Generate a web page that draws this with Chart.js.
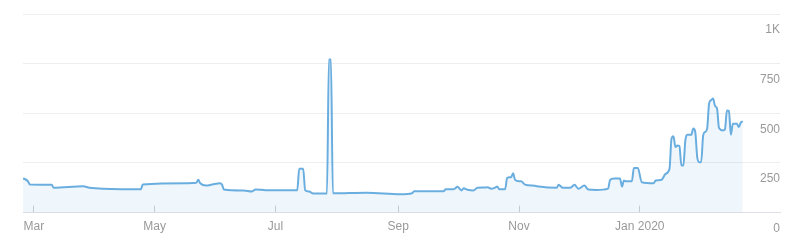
<!DOCTYPE html>
<html>
<head>
<meta charset="utf-8">
<script src="https://cdn.jsdelivr.net/npm/chart.js@4"></script>
<style>
  body { margin: 0; background: #fff; }
</style>
</head>
<body>
<canvas id="trafficChart" width="801" height="252"></canvas>
<script>
// days counted from 1 Mar 2019
const days = [-5.5, -3, -2, 9, 10, 25, 28, 44, 54, 55, 78, 82, 83, 84, 87, 90, 94, 95, 96,
    106, 110, 112, 117, 133, 134, 136, 137, 139, 141, 148, 149, 150, 151, 168, 185,
    191, 192, 207, 208, 212, 214, 215, 216, 217, 219, 222, 224, 228, 229, 231, 233, 234, 235,
    238, 239, 241, 242, 243, 245, 246, 248, 253, 255, 264, 265, 267, 271, 273, 275, 278, 280,
    284, 290, 291, 293, 296, 297, 298, 299, 302, 303, 305, 307, 313, 314, 317, 319, 321,
    322, 323, 324, 325, 326, 327, 328, 329, 330, 332, 333, 334, 335, 336, 337, 338, 339,
    340, 341, 342, 343, 344, 345, 346, 348, 349, 350, 351, 352, 353, 355, 356, 357, 358];
const values = [173, 158, 141, 140, 125, 133, 125, 118, 118, 141, 148, 150, 165, 148, 136, 141, 148, 141, 116,
    111, 106, 116, 113, 112, 221, 221, 112, 106, 96, 96, 771, 771, 97, 100, 92,
    97, 108, 108, 118, 118, 130, 120, 111, 123, 115, 111, 125, 126, 128, 120, 126, 131, 118,
    118, 175, 178, 198, 165, 158, 158, 141, 135, 131, 125, 140, 125, 125, 140, 120, 136, 116,
    114, 121, 165, 172, 172, 131, 162, 158, 158, 224, 224, 153, 148, 162, 165, 195, 221,
    372, 385, 330, 338, 335, 237, 237, 364, 392, 392, 423, 406, 279, 254, 254, 389, 406,
    423, 549, 566, 574, 537, 524, 426, 414, 419, 514, 512, 392, 448, 448, 431, 453, 460];

const tickDays = [0, 61, 122, 184, 245, 306];
const tickLabels = ['Mar', 'May', 'Jul', 'Sep', 'Nov', 'Jan 2020'];
const yTicks = [0, 250, 500, 750, 1000];

const points = days.map((d, i) => ({ x: d, y: values[i] }));

new Chart(document.getElementById('trafficChart'), {
    type: 'line',
    data: {
        datasets: [{
            data: points,
            borderColor: '#6aaee0',
            backgroundColor: 'rgba(106, 174, 224, 0.1)',
            borderWidth: 2,
            fill: 'start',
            pointRadius: 0,
            cubicInterpolationMode: 'monotone',
        }]
    },
    options: {
        responsive: false,
        animation: false,
        layout: { padding: { left: 23, right: 21, top: 14, bottom: 4 } },
        plugins: { legend: { display: false }, tooltip: { enabled: false } },
        scales: {
            x: {
                type: 'linear',
                min: -5.5,
                max: 376.8,
                afterBuildTicks: axis => { axis.ticks = tickDays.map(v => ({ value: v })); },
                grid: { drawOnChartArea: false, color: '#cfcfcf', tickLength: -7 },
                border: { color: '#dcdfe3' },
                ticks: {
                    autoSkip: false,
                    maxRotation: 0,
                    padding: 14,
                    color: '#999',
                    font: { family: 'Liberation Sans, Arial, sans-serif', size: 12 },
                    callback: v => tickLabels[tickDays.indexOf(v)],
                }
            },
            y: {
                position: 'right',
                min: 0,
                max: 1000,
                afterBuildTicks: axis => { axis.ticks = yTicks.map(v => ({ value: v })); },
                grid: { color: '#eeeeee', drawTicks: false },
                border: { display: false },
                ticks: {
                    mirror: true,
                    padding: 0,
                    labelOffset: 16,
                    color: '#999',
                    font: { family: 'Liberation Sans, Arial, sans-serif', size: 12 },
                    callback: v => v === 1000 ? '1K' : v,
                }
            }
        }
    }
});
</script>
</body>
</html>
